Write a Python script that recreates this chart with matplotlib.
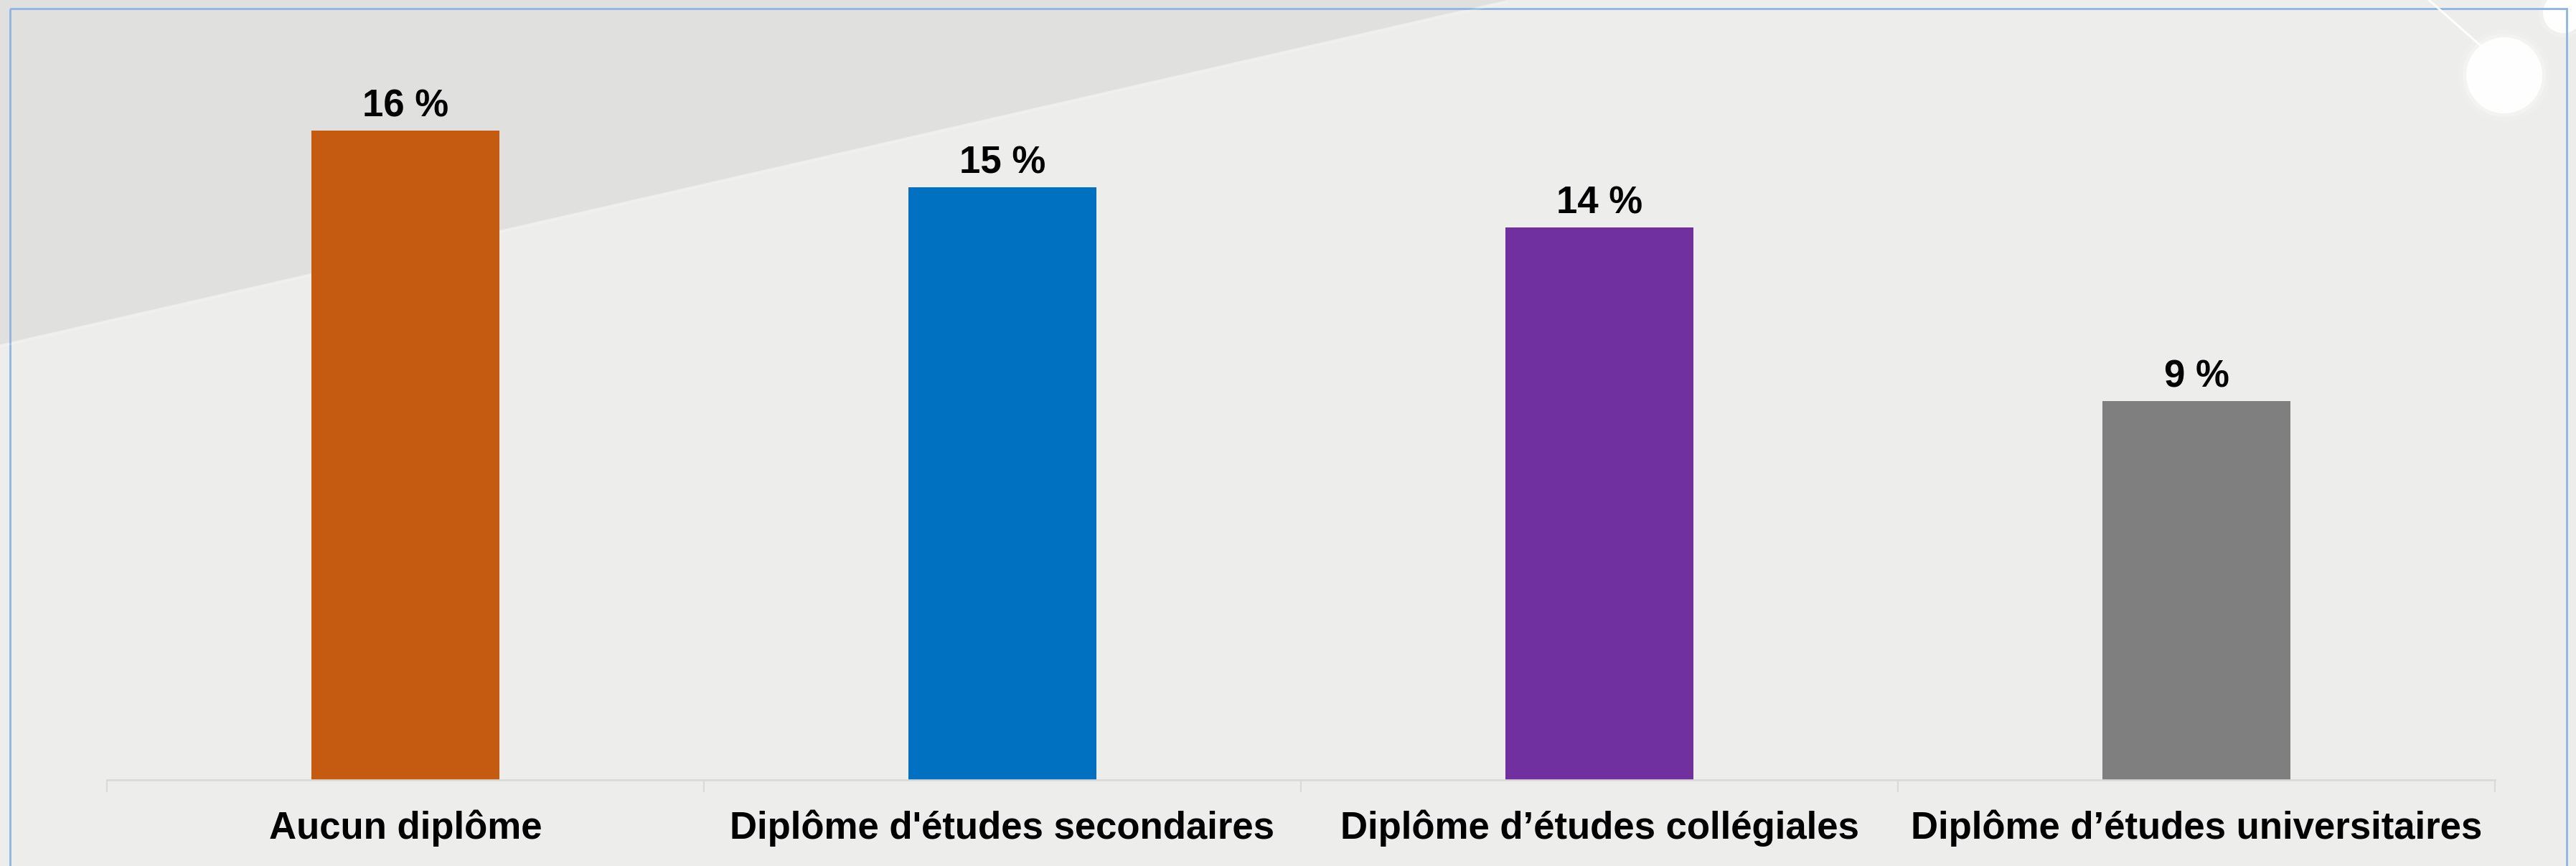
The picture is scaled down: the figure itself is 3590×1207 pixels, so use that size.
import numpy as np
import matplotlib
matplotlib.use("Agg")
import matplotlib.pyplot as plt
from matplotlib.patches import Polygon, Rectangle, Circle

# data
categories = ["Aucun diplôme", "Diplôme d'études secondaires",
              "Diplôme d’études collégiales", "Diplôme d’études universitaires"]
values = [16.1, 14.7, 13.7, 9.4]
colors = ["#C55A11", "#0070C0", "#7030A0", "#7F7F7F"]

W, H = 3591, 1207
DPI = 100
FONT = ["Liberation Sans", "DejaVu Sans"]

fig = plt.figure(figsize=(W / DPI, H / DPI), dpi=DPI, facecolor="#EDEDEB")

# background decoration, drawn in pixel space
bg = fig.add_axes([0, 0, 1, 1], zorder=-1)
bg.set_xlim(0, W)
bg.set_ylim(H, 0)
bg.axis("off")
bg.add_patch(Polygon([(0, 0), (2100, 0), (0, 480)], closed=True,
                     facecolor="#E0E0DF", edgecolor="none"))
bg.plot([0, 2100], [483, 3], color="white", lw=2, alpha=0.18)
bg.plot([3385, 3462], [0, 68], color="white", lw=2.2, alpha=0.9)
for r, a in [(64, 0.15), (58, 0.3), (53, 0.95)]:
    bg.add_patch(Circle((3490, 105), r, facecolor="white", edgecolor="none", alpha=a))
for r, a in [(34, 0.2), (28, 0.95)]:
    bg.add_patch(Circle((3572, 18), r, facecolor="white", edgecolor="none", alpha=a))
bg.add_patch(Rectangle((14, 12), 3577 - 14, H + 50, fill=False,
                       edgecolor="#8DB4E2", lw=2.0))

# chart
ax = fig.add_axes([149 / W, 1 - 1087 / H, (3477 - 149) / W, (1087 - 75.4) / H])
ax.set_facecolor("none")
x = np.arange(len(categories))
bars = ax.bar(x, values, width=0.315, color=colors)
ax.set_xlim(-0.5, len(categories) - 0.5)
ax.set_ylim(0, 18)

for b, v in zip(bars, values):
    ax.annotate(f"{round(v)} %", (b.get_x() + b.get_width() / 2, v),
                xytext=(0, 14), textcoords="offset points", ha="center",
                va="baseline", fontsize=38, fontweight="bold", family=FONT)

ax.set_xticks(x)
ax.set_xticklabels(categories, fontsize=38, fontweight="bold", family=FONT)
ax.tick_params(axis="x", which="major", length=0, pad=30)
ax.set_xticks(np.arange(-0.5, len(categories)), minor=True)
ax.tick_params(axis="x", which="minor", length=12, width=1.5, color="#D9D9D9")
ax.set_yticks([])
for s in ["top", "right", "left"]:
    ax.spines[s].set_visible(False)
ax.spines["bottom"].set_color("#D9D9D9")
ax.spines["bottom"].set_linewidth(1.8)

fig.savefig("out.png", dpi=DPI, facecolor=fig.get_facecolor())
